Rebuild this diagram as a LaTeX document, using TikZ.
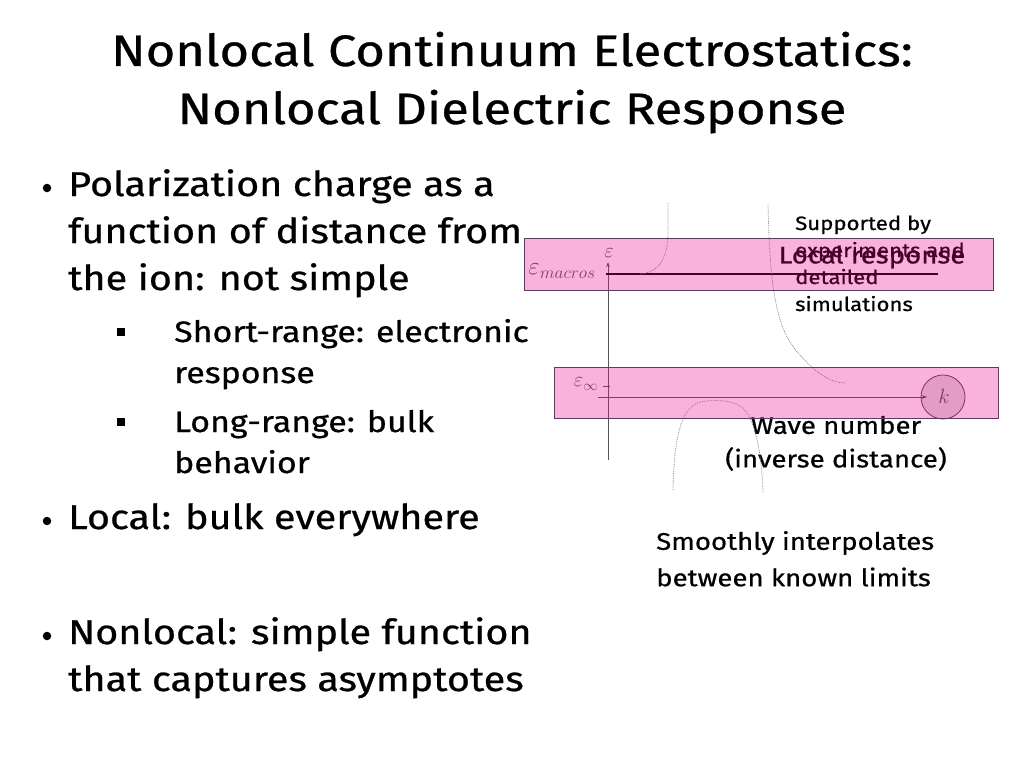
\documentclass[tikz,border=0pt]{standalone}
\usepackage{fontspec}
\setmainfont[FakeStretch=1.15,FakeBold=0.7]{Fira Sans}
\usetikzlibrary{arrows.meta}
\definecolor{boxedge}{RGB}{95,60,95}
\definecolor{axisgray}{RGB}{85,85,85}
\definecolor{dotgray}{RGB}{140,140,140}
\begin{document}
\begin{tikzpicture}[x=1pt,y=-1pt,
  titletxt/.style={font=\fontsize{44}{44}\selectfont, anchor=base, inner sep=0},
  btxt/.style={font=\fontsize{34.4}{34.4}\selectfont, anchor=base west, inner sep=0},
  stxt/.style={font=\fontsize{29.5}{29.5}\selectfont, anchor=base west, inner sep=0},
  bulletmark/.style={circle, fill=black, minimum size=8.5pt, inner sep=0},
  sqmark/.style={fill=black, minimum size=8pt, inner sep=0},
  smalltxt/.style={font=\fontsize{19.3}{19.3}\selectfont, anchor=base west, inner sep=0},
  midtxt/.style={font=\fontsize{24}{24}\selectfont, inner sep=0},
  mathlbl/.style={text=axisgray, inner sep=0},
  axisline/.style={draw=axisgray, line width=0.8pt},
  dotcurve/.style={draw=dotgray, line width=0.8pt, densely dotted},
  overlay box/.style={fill=magenta, fill opacity=0.3, draw=boxedge, line width=1pt}
]
\useasboundingbox (0,0) rectangle (1024,768);

% title
\node[titletxt] (t1) at (512,66) {Nonlocal Continuum Electrostatics:};
\node[titletxt] (t2) at (512,124) {Nonlocal Dielectric Response};

% bullets
\node[bulletmark] (m1) at (47,188) {};
\node[btxt] (b1a) at (68,196) {Polarization charge as a};
\node[btxt] (b1b) at (68,243) {function of distance from};
\node[btxt] (b1c) at (68,290) {the ion: not simple};
\node[sqmark] (s1) at (121,332) {};
\node[stxt] (s1a) at (174,342) {Short-range: electronic};
\node[stxt] (s1b) at (174,383) {response};
\node[sqmark] (s2) at (121,422) {};
\node[stxt] (s2a) at (174,432) {Long-range: bulk};
\node[stxt] (s2b) at (174,473) {behavior};
\node[bulletmark] (m2) at (47,521) {};
\node[btxt] (b2) at (68,529) {Local: bulk everywhere};
\node[bulletmark] (m3) at (47,636) {};
\node[btxt] (b3a) at (68,644) {Nonlocal: simple function};
\node[btxt] (b3b) at (68,691) {that captures asymptotes};

% right-hand texts
\node[smalltxt] (sup1) at (795,230) {Supported by};
\node[smalltxt] (sup2) at (795,257) {experiments and};
\node[smalltxt] (sup3) at (795,284) {detailed};
\node[smalltxt] (sup4) at (795,311) {simulations};
\node[midtxt] (loc) at (872,257) {Local response};
\node[midtxt] (wave1) at (836,425) {Wave number};
\node[midtxt] (wave2) at (836,459) {(inverse distance)};
\node[midtxt, anchor=west] (sm1) at (656,543) {Smoothly interpolates};
\node[midtxt, anchor=west] (sm2) at (656,577) {between known limits};

% plot
\coordinate (yaxlo) at (608,460);
\coordinate (yaxhi) at (608,262);
\coordinate (xaxlo) at (598,397);
\coordinate (xaxhi) at (927,397);
\draw[axisline, -{Stealth[length=5pt,width=3.5pt]}] (yaxlo) -- (yaxhi);
\draw[axisline, -{Stealth[length=5pt,width=3.5pt]}] (xaxlo) -- (xaxhi);
\node[mathlbl, font=\fontsize{20}{20}\selectfont] (eps) at (609,253) {$\varepsilon$};
\node[mathlbl, font=\fontsize{24}{24}\selectfont] (epsm) at (562,271) {$\varepsilon_{macros}$};
\node[mathlbl, font=\fontsize{21}{21}\selectfont] (epsi) at (586,384) {$\varepsilon_{\infty}$};
\coordinate (tk1a) at (603,386);
\coordinate (tk1b) at (610,386);
\draw[axisline] (tk1a) -- (tk1b);
\coordinate (locl) at (606,274);
\coordinate (locr) at (938,274);
\draw[line width=2.4pt, black] (locl) -- (locr);

% dotted curves
\draw[dotcurve] (668,203) -- (668,232) .. controls (668,262) and (656,273) .. (640,274);
\draw[dotcurve] (768,205) .. controls (770,290) and (776,330) .. (800,355) .. controls (815,372) and (830,383) .. (845,383);
\draw[dotcurve] (673,490) .. controls (674,440) and (680,402) .. (706,401) .. controls (722,400) and (738,400) .. (747,413) .. controls (757,428) and (762,460) .. (763,493);

% circle with k
\node[circle, draw=boxedge, line width=0.8pt, fill=black, fill opacity=0.12, text opacity=1, minimum size=44pt, inner sep=0] (kc) at (943,397) {};
\node[mathlbl, font=\fontsize{22}{22}\selectfont] (klbl) at (944,396) {$k$};

% translucent highlight boxes
\draw[overlay box] (524,238) rectangle (993,290);
\draw[overlay box] (554,367) rectangle (998,418);
\end{tikzpicture}
\end{document}
